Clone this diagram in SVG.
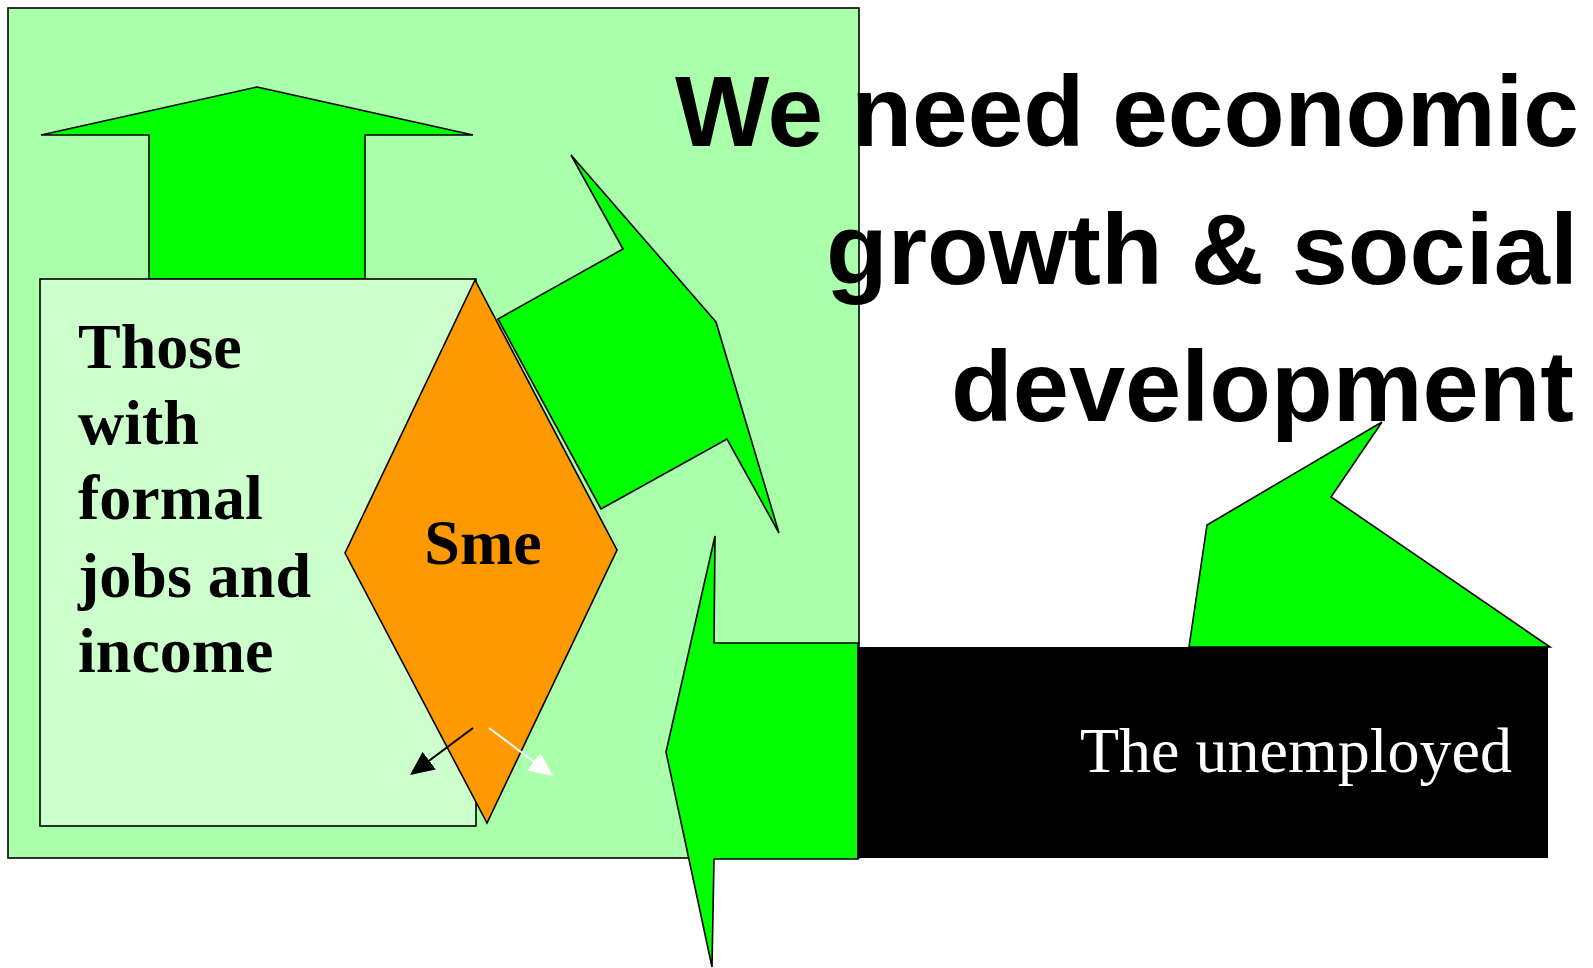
<svg xmlns="http://www.w3.org/2000/svg" width="1593" height="968" viewBox="0 0 1593 968">
<style>
.sh{stroke:#000;stroke-width:1.6;stroke-linejoin:miter}
.bright{fill:#00FF00}
.title{font-family:"Liberation Sans",Arial,sans-serif;font-weight:bold;font-size:101px;fill:#000;text-anchor:end}
.serifb{font-family:"Liberation Serif","Times New Roman",serif;font-weight:bold;font-size:64px;fill:#000}
</style>
<defs>
<marker id="hb" viewBox="0 0 24 22" refX="12" refY="11" markerWidth="24" markerHeight="22" markerUnits="userSpaceOnUse" orient="auto"><path d="M0,0 L24,11 L0,22 z" fill="#000"/></marker>
<marker id="hw" viewBox="0 0 24 22" refX="12" refY="11" markerWidth="24" markerHeight="22" markerUnits="userSpaceOnUse" orient="auto"><path d="M0,0 L24,11 L0,22 z" fill="#fff"/></marker>
</defs>
<rect width="1593" height="968" fill="#fff"/>
<g id="background-panel">
<rect x="8" y="8" width="851" height="850" fill="#AAFFAA" class="sh"/>
</g>
<g id="up-arrow">
<polygon class="sh bright" points="257,87 473,135 365,135 365,279 149,279 149,135 41,135"/>
</g>
<g id="formal-jobs">
<rect x="40" y="279" width="436" height="547" fill="#CCFFCC" class="sh"/>
<text class="serifb" x="78"><tspan x="78" y="368">Those</tspan><tspan x="78" y="444">with</tspan><tspan x="78" y="519">formal</tspan><tspan x="78" y="597">jobs and</tspan><tspan x="78" y="672">income</tspan></text>
</g>
<g id="cycle-arrow">
<polygon class="sh bright" points="571,155 623,249 498,319 601,509 727,439 779,533 716,322"/>
</g>
<g id="sme">
<polygon class="sh" fill="#FF9900" points="475,280 617,550 487,823 345,553"/>
<text class="serifb" x="483" y="564" text-anchor="middle" font-size="65">Sme</text>
</g>
<g id="title">
<text class="title"><tspan x="1579" y="146" font-size="100">We need economic</tspan><tspan x="1578" y="284">growth &amp; social</tspan><tspan x="1574" y="421">development</tspan></text>
</g>
<g id="left-arrow">
<polygon class="sh bright" points="715,536 714,643 858,643 858,859 714,859 712,967 666,752"/>
</g>
<g id="up-right-arrow">
<polygon class="sh bright" points="1189,647 1207,525 1382,422 1331,497 1550,647"/>
</g>
<g id="unemployed">
<rect x="857" y="647" width="691" height="211" fill="#000"/>
<text x="1080" y="772" font-family="'Liberation Serif','Times New Roman',serif" font-size="64" fill="#fff">The unemployed</text>
</g>
<g id="connectors">
<line x1="473" y1="728" x2="419.6" y2="767.8" stroke="#000" stroke-width="2" marker-end="url(#hb)"/>
<line x1="489" y1="728" x2="543.4" y2="768.8" stroke="#fff" stroke-width="2" marker-end="url(#hw)"/>
</g>
</svg>
